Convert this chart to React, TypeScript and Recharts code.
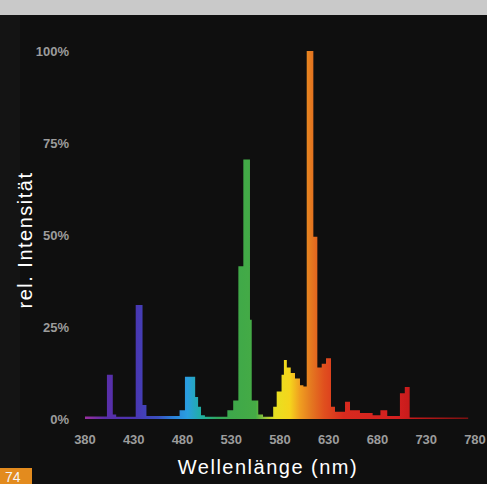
import { Area, AreaChart, XAxis, YAxis } from "recharts";

// step breakpoints: each value holds from its wavelength up to the next one
const wavelengths = [
  380, 402.5, 408.5, 412, 432, 439, 443, 477, 482.5, 493, 496, 499, 503, 526, 532, 537.3, 542.4,
  549.2, 551, 557.7, 562.6, 573, 576.6, 581.6, 584, 587, 591, 595.4, 600.5, 604, 607.4, 614.2,
  618.3, 622.8, 627.2, 632.3, 636.4, 646.7, 651.8, 662, 675, 683, 690, 703, 708, 713, 773, 780,
];
const intensity = [
  0.7, 12, 1.2, 0.6, 31, 3.8, 0.8, 2.4, 11.5, 6, 3.3, 1, 0.6, 2.4, 5, 41.5, 70.5,
  27, 5, 1.2, 0.6, 3.3, 7.5, 12, 16, 14, 12.5, 11, 9.2, 8.8, 100, 49.5,
  14, 15, 16.5, 3.3, 2, 4.7, 2.4, 1.6, 1, 2.4, 0.8, 7, 8.7, 0.4, 0, 0,
];

const xTicks = [380, 430, 480, 530, 580, 630, 680, 730, 780];
const yTicks = [0, 25, 50, 75, 100];

// spectrum colours along the wavelength axis
const stopNm = [380, 400, 430, 455, 470, 485, 500, 515, 530, 555, 565, 575, 590, 600, 612, 625, 645, 700, 720, 780];
const stopColors = [
  "#9b2fa0", "#5a2ea8", "#4a34b0", "#3a50c0", "#2a80d8", "#2a9ee0", "#20b0a0", "#30a860",
  "#3ea84a", "#45ab45", "#9cc83a", "#e8e020", "#f5d51c", "#f0a020", "#e47820", "#e0501e",
  "#d82a1e", "#d42020", "#c01818", "#701010",
];

const data = wavelengths.map((nm, i) => ({ nm, value: intensity[i] }));

const tickStyle = {
  fill: "#9c9c9c",
  fontSize: 13,
  fontWeight: 700,
  fontFamily: "Liberation Sans, Arial, sans-serif",
};

export default function App() {
  return (
    <div
      style={{
        position: "absolute",
        left: 0,
        top: 0,
        width: 487,
        height: 484,
        background: "#0f0f0f",
        overflow: "hidden",
      }}
    >
      <div style={{ position: "absolute", left: 0, top: 0, width: 20, height: 484, background: "#141414" }} />
      <div style={{ position: "absolute", left: 0, top: 0, width: 487, height: 15, background: "#c9c9c9" }} />
      <div style={{ position: "absolute", left: 0, top: 0 }}>
        <AreaChart width={487} height={484} data={data} margin={{ top: 51, right: 12, bottom: 35, left: 25 }}>
          <defs>
            <linearGradient id="spectrum" x1="0" y1="0" x2="1" y2="0">
              {stopNm.map((nm, i) => (
                <stop key={nm} offset={(nm - 380) / 400} stopColor={stopColors[i]} />
              ))}
            </linearGradient>
          </defs>
          <XAxis
            type="number"
            dataKey="nm"
            domain={[380, 780]}
            ticks={xTicks}
            axisLine={false}
            tickLine={false}
            tickSize={0}
            tickMargin={16}
            height={30}
            interval={0}
            tick={tickStyle}
          />
          <YAxis
            type="number"
            domain={[0, 100]}
            ticks={yTicks}
            axisLine={false}
            tickLine={false}
            tickSize={0}
            tickMargin={16}
            width={60}
            interval={0}
            tickFormatter={(v) => `${v}%`}
            tick={tickStyle}
          />
          <Area
            type="stepAfter"
            dataKey="value"
            stroke="none"
            fill="url(#spectrum)"
            fillOpacity={1}
            isAnimationActive={false}
          />
        </AreaChart>
      </div>
      <svg
        width={487}
        height={484}
        style={{ position: "absolute", left: 0, top: 0, pointerEvents: "none" }}
        fontFamily="Liberation Sans, Arial, sans-serif"
      >
        <text
          x={25}
          y={240}
          transform="rotate(-90 25 240)"
          textAnchor="middle"
          dominantBaseline="central"
          fill="#ffffff"
          fontSize={20}
          letterSpacing={1.5}
        >
          rel. Intensität
        </text>
        <text x={268} y={474} textAnchor="middle" fill="#ffffff" fontSize={20} letterSpacing={1.5}>
          Wellenlänge (nm)
        </text>
        <rect x={0} y={468} width={32} height={16} fill="#e38b1e" />
        <text x={5} y={482} fill="#f5f5f5" fontSize={14}>
          74
        </text>
      </svg>
    </div>
  );
}
